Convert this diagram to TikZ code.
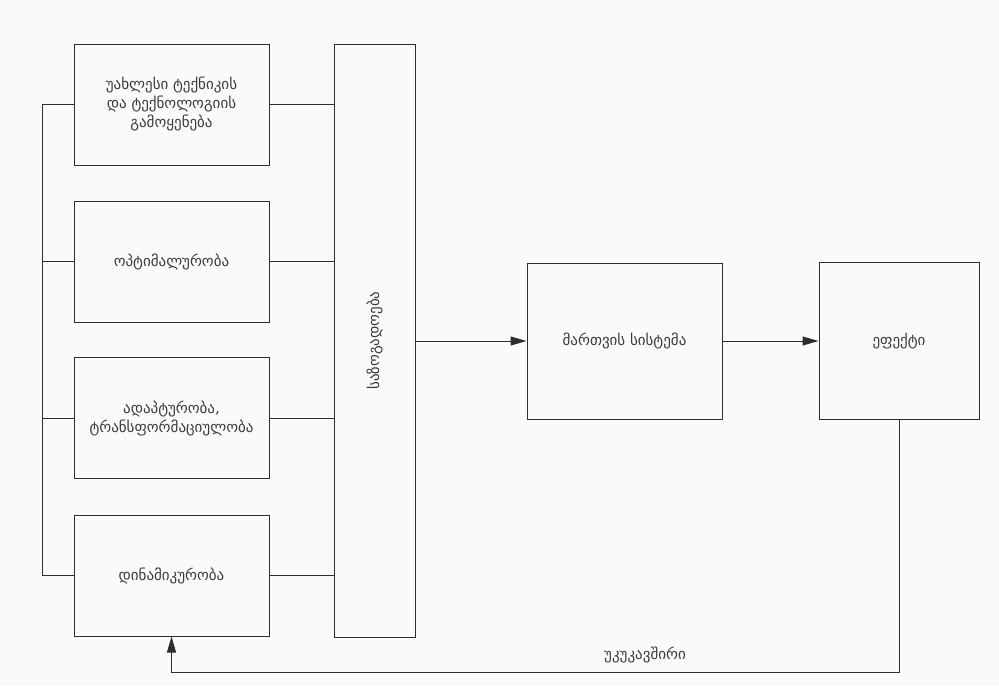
\documentclass[tikz,border=0pt]{standalone}
\usepackage{fontspec}
\setmainfont{DejaVu Sans}
\usetikzlibrary{arrows.meta}
\definecolor{lc}{RGB}{45,45,45}
\definecolor{bg}{RGB}{248,250,251}
\definecolor{tc}{RGB}{60,60,60}
\begin{document}
\begin{tikzpicture}[x=1pt,y=-1pt,
  line/.style={draw=lc, line width=1pt},
  arr/.style={line, -{Triangle[length=16pt,width=9pt]}},
  txt/.style={text=tc, font=\fontsize{15}{19}\selectfont},
  box/.style={line, txt, align=center, inner sep=0pt},
  lbox/.style={box, minimum width=195pt, minimum height=121pt}]
\fill[bg] (0,0) rectangle (999,686);
\useasboundingbox (0,0) rectangle (999,686);
\node[lbox] (b1) at (171.5,104.5) {უახლესი ტექნიკის\\და ტექნოლოგიის\\გამოყენება};
\node[lbox] (b2) at (171.5,261.5) {ოპტიმალურობა};
\node[lbox] (b3) at (171.5,418) {ადაპტურობა,\\ტრანსფორმაციულობა};
\node[lbox] (b4) at (171.5,575.5) {დინამიკურობა};
\node[box, minimum width=81pt, minimum height=593pt] (soc) at (374.5,340.5) {};
\node[txt, rotate=90] (soclbl) at (soc.center) {საზოგადოება};
\node[box, minimum width=195pt, minimum height=156pt] (ctrl) at (624.5,341) {მართვის სისტემა};
\node[box, minimum width=160pt, minimum height=157pt] (eff) at (899,341) {ეფექტი};
% bus
\draw[line] (b1.west) -- ++(-31,0) |- (b4.west);
\draw[line] (b2.west) -- ++(-31,0);
\draw[line] (b3.west) -- ++(-31,0);
% to society
\foreach \b in {b1,b2,b3,b4} \draw[line] (\b.east) -- (\b.east -| soc.west);
% main flow
\draw[arr] (soc.east |- ctrl.west) -- (ctrl.west);
\draw[arr] (ctrl.east) -- (eff.west);
% feedback
\coordinate (fb) at (899,672);
\draw[arr] (eff.south) -- (fb) -| (b4.south);
\node[txt] (fblbl) at (645,655) {უკუკავშირი};
\end{tikzpicture}
\end{document}
